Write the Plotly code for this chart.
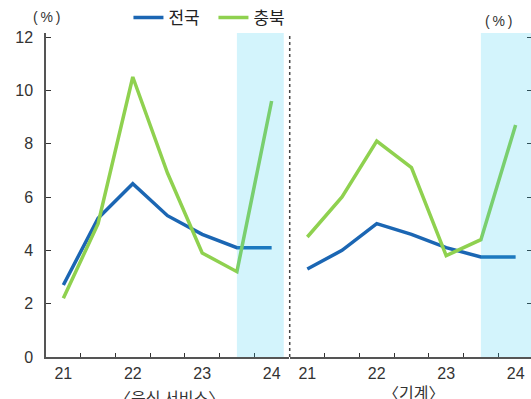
import plotly.graph_objects as go

periods = ["21.1H", "21.2H", "22.1H", "22.2H", "23.1H", "23.2H", "24.1H"]
tick_idx = [0, 2, 4, 6]
tick_labels = ["21", "22", "23", "24"]
series_names = ["전국", "충북"]
panel_titles = ["〈음식 서비스〉", "〈기계〉"]
unit_label = "(\u2009%\u2009)"

food_national = [2.7, 5.2, 6.5, 5.3, 4.6, 4.1, 4.1]
food_chungbuk = [2.2, 5.0, 10.5, 6.9, 3.9, 3.2, 9.6]
mach_national = [3.3, 4.0, 5.0, 4.6, 4.1, 3.75, 3.75]
mach_chungbuk = [4.5, 6.0, 8.1, 7.1, 3.8, 4.4, 8.7]

BLUE = "#1b66b3"
GREEN = "#8fd14f"
FONT = "Liberation Sans, Noto Sans CJK KR, sans-serif"
KFONT = "Noto Sans CJK KR, sans-serif"
x_idx = list(range(len(periods)))

fig = go.Figure()
fig.add_trace(go.Scatter(x=x_idx, y=food_national, mode="lines", name=series_names[0],
                         line=dict(color=BLUE, width=3.5), xaxis="x", yaxis="y"))
fig.add_trace(go.Scatter(x=x_idx, y=food_chungbuk, mode="lines", name=series_names[1],
                         line=dict(color=GREEN, width=3.5), xaxis="x", yaxis="y"))
fig.add_trace(go.Scatter(x=x_idx, y=mach_national, mode="lines", name=series_names[0],
                         line=dict(color=BLUE, width=3.5), xaxis="x2", yaxis="y2", showlegend=False))
fig.add_trace(go.Scatter(x=x_idx, y=mach_chungbuk, mode="lines", name=series_names[1],
                         line=dict(color=GREEN, width=3.5), xaxis="x2", yaxis="y2", showlegend=False))

shade = "rgba(35,200,240,0.2)"
fig.add_shape(type="rect", xref="x", yref="y", x0=5, x1=6.35, y0=0, y1=12.15,
              fillcolor=shade, line_width=0, layer="above")
fig.add_shape(type="rect", xref="x2", yref="y2", x0=5, x1=6.45, y0=0, y1=12.15,
              fillcolor=shade, line_width=0, layer="above")
fig.add_shape(type="line", xref="paper", yref="paper", x0=0.5025, x1=0.5025, y0=0, y1=0.994,
              line=dict(color="#444444", width=1.5, dash="dot"))

xcommon = dict(tickmode="array", tickvals=tick_idx, ticktext=tick_labels, ticks="",
               showline=True, linecolor="#555555", linewidth=1.5, showgrid=False, zeroline=False,
               tickfont=dict(size=16, color="#333333", family=FONT), ticklabelstandoff=1,
               minor=dict(tickvals=[0.5, 1.5, 2.5, 3.5, 4.5, 5.5], ticks="inside", ticklen=4,
                          tickcolor="#333333", tickwidth=1))
fig.update_layout(
    width=531, height=399,
    margin=dict(l=46, r=0, t=33, b=42),
    plot_bgcolor="white", paper_bgcolor="white",
    font=dict(family=FONT, color="#333333"),
    xaxis=dict(domain=[0, 0.501], range=[-0.5, 6.5], anchor="y", **xcommon),
    xaxis2=dict(domain=[0.503, 1.0], range=[-0.5, 6.443], anchor="y2", **xcommon),
    yaxis=dict(domain=[0, 1], range=[0, 12.15], tickvals=[0, 2, 4, 6, 8, 10, 12], ticks="inside",
               ticklen=5, tickcolor="#333333", showline=True, linecolor="#555555", linewidth=1.5,
               showgrid=False, zeroline=False, anchor="x", ticklabelstandoff=8,
               tickfont=dict(size=16, color="#333333", family=FONT)),
    yaxis2=dict(domain=[0, 1], range=[0, 12.15], tickvals=[0, 2, 4, 6, 8, 10, 12], ticks="inside",
                ticklen=4, tickcolor="#333333", showline=False, showgrid=False, zeroline=False,
                anchor="x2", side="right", showticklabels=False),
    showlegend=True,
    legend=dict(orientation="h", x=0.17, y=1.103, xanchor="left", yanchor="top",
                font=dict(size=17, color="#222222", family=KFONT), bgcolor="rgba(0,0,0,0)",
                itemwidth=30, tracegroupgap=0, entrywidth=40, entrywidthmode="pixels"),
    annotations=[
        dict(text=unit_label, xref="paper", yref="paper", x=0.0, y=1.049, showarrow=False,
             font=dict(size=14, color="#333333"), xanchor="center", yanchor="middle"),
        dict(text=unit_label, xref="paper", yref="paper", x=0.932, y=1.038, showarrow=False,
             font=dict(size=14, color="#333333"), xanchor="center", yanchor="middle"),
        dict(text=panel_titles[0], xref="paper", yref="paper", x=0.255, y=-0.08, showarrow=False,
             font=dict(size=16, color="#333333", family=KFONT), xanchor="center", yanchor="top"),
        dict(text=panel_titles[1], xref="paper", yref="paper", x=0.757, y=-0.066, showarrow=False,
             font=dict(size=16, color="#333333", family=KFONT), xanchor="center", yanchor="top"),
    ],
)
fig.write_html("out.html")
